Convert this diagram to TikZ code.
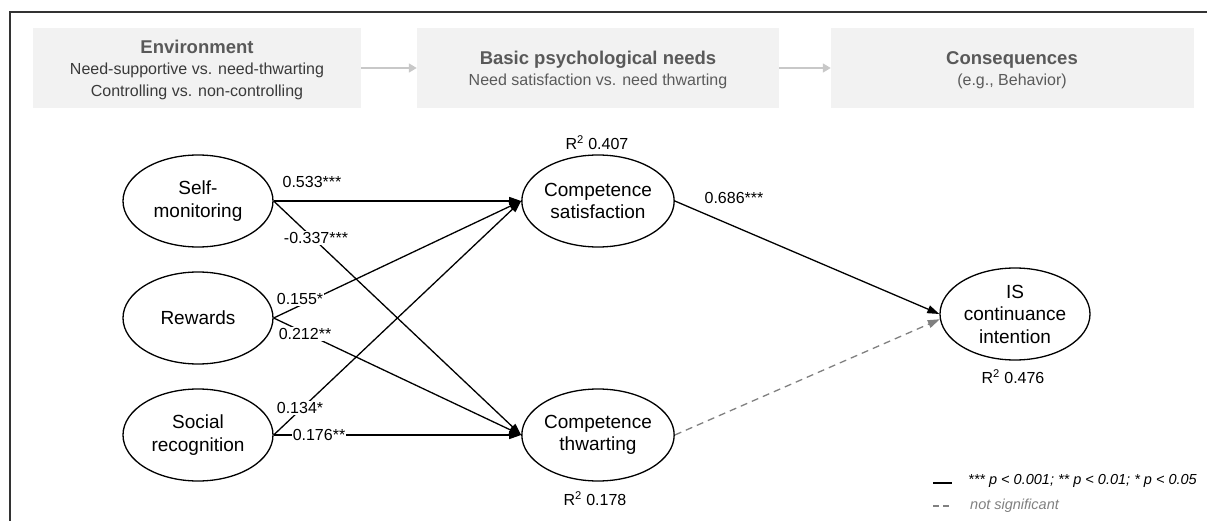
\documentclass[tikz,border=0pt]{standalone}
\usepackage{fontspec}
\setmainfont{Liberation Sans}
\usetikzlibrary{shapes.geometric,arrows.meta}
\definecolor{boxgray}{HTML}{F2F2F2}
\definecolor{arrgray}{HTML}{C8C8C8}
\definecolor{ttlgray}{HTML}{595959}
\definecolor{subdark}{HTML}{3A3A3A}
\definecolor{sublight}{HTML}{5A5A5A}
\definecolor{nsgray}{HTML}{808080}
\definecolor{framegray}{HTML}{333333}
\tikzset{
  lat/.style={ellipse, draw, line width=1.3pt, minimum width=150pt, minimum height=92pt,
    inner sep=0pt, align=center, font=\fontsize{19}{22.5}\selectfont},
  topbox/.style={fill=boxgray, draw=none, inner sep=0pt},
  ttl/.style={font=\fontsize{18.5}{20}\selectfont\bfseries, text=ttlgray, inner sep=0pt},
  subd/.style={font=\fontsize{16}{18}\selectfont, text=subdark, inner sep=0pt},
  subl/.style={font=\fontsize{16}{18}\selectfont, text=sublight, inner sep=0pt},
  garrow/.style={draw=arrgray, line width=1.6pt, -{Triangle[length=8pt,width=9pt,fill=arrgray]}},
  sig/.style={draw=black, line width=1.3pt, -{Triangle[length=12pt,width=8pt]}},
  nsig/.style={draw=nsgray, line width=1.3pt, dash pattern=on 7pt off 5pt, -{Triangle[length=12pt,width=8pt,fill=nsgray]}},
  lbl/.style={font=\fontsize{16}{17}\selectfont, fill=white, inner sep=1pt},
  rsq/.style={font=\fontsize{16}{18}\selectfont, inner sep=0pt},
  leg/.style={font=\fontsize{14.5}{17}\selectfont\itshape, anchor=west, inner sep=0pt}
}
\begin{document}
\begin{tikzpicture}[x=1pt,y=-1pt]
\useasboundingbox (0,0) rectangle (1207,521);
\begin{scope}
\clip (0,0) rectangle (1207,521);
\draw[framegray, line width=1.8pt] (10,530) -- (10,12) -- (1215,12);
\end{scope}

% top boxes
\node[topbox, minimum width=328pt, minimum height=80pt] (env) at (197,68) {};
\node[topbox, minimum width=362pt, minimum height=80pt] (bpn) at (598,68) {};
\node[topbox, minimum width=363pt, minimum height=80pt] (cons) at (1012.5,68) {};
\draw[garrow] (env.east) -- (bpn.west);
\draw[garrow] (bpn.east) -- (cons.west);
\node[ttl] (envt) at (197,47) {Environment};
\node[subd] (envs1) at (197,70) {Need-supportive vs. need-thwarting};
\node[subd] (envs2) at (197,92) {Controlling vs. non-controlling};
\node[ttl] (bpnt) at (598,60) {Basic psychological needs};
\node[subl] (bpns) at (598,81) {Need satisfaction vs. need thwarting};
\node[ttl] (const) at (1012,60) {Consequences};
\node[subl] (conss) at (1012,81) {(e.g., Behavior)};

% latent variables
\node[lat] (sm) at (198,201) {Self-\\monitoring};
\node[lat] (rw) at (198,318) {Rewards};
\node[lat] (sr) at (198,435) {Social\\recognition};
\node[lat] (cs) at (598,201) {Competence\\satisfaction};
\node[lat] (ct) at (598,435) {Competence\\thwarting};
\node[lat] (is) at (1015,314) {IS\\continuance\\intention};

% paths
\draw[sig] (sm.east) -- (cs.west);
\draw[sig] (sm.east) -- (ct.west);
\draw[sig] (rw.east) -- (cs.west);
\draw[sig] (rw.east) -- (ct.west);
\draw[sig] (sr.east) -- (cs.west);
\draw[sig] (sr.east) -- (ct.west);
\draw[sig] (cs.east) -- (is.west);
\draw[nsig] (ct.east) -- (is.184);

% path labels
\node[lbl, fill=none] (l533) at (312,182) {0.533***};
\node[lbl] (l337) at (316,238) {-0.337***};
\node[lbl] (l155) at (300,299) {0.155*};
\node[lbl] (l212) at (305,334) {0.212**};
\node[lbl] (l134) at (300,408) {0.134*};
\node[lbl] (l176) at (319,435) {0.176**};
\node[lbl, fill=none] (l686) at (734,198) {0.686***};

% R squared
\node[rsq] (r1) at (597,143) {R\textsuperscript{2} 0.407};
\node[rsq] (r2) at (595,499) {R\textsuperscript{2} 0.178};
\node[rsq] (r3) at (1013,377) {R\textsuperscript{2} 0.476};

% legend
\coordinate (la1) at (933,483);
\coordinate (la2) at (952,483);
\coordinate (lb1) at (933,506);
\coordinate (lb2) at (952,506);
\draw[line width=1.5pt] (la1) -- (la2);
\draw[nsgray, line width=1.3pt, dash pattern=on 6pt off 4pt] (lb1) -- (lb2);
\node[leg] (legs) at (968,481) {*** p < 0.001; ** p < 0.01; * p < 0.05};
\node[leg, text=nsgray] (legn) at (970,506) {not significant};
\end{tikzpicture}
\end{document}
